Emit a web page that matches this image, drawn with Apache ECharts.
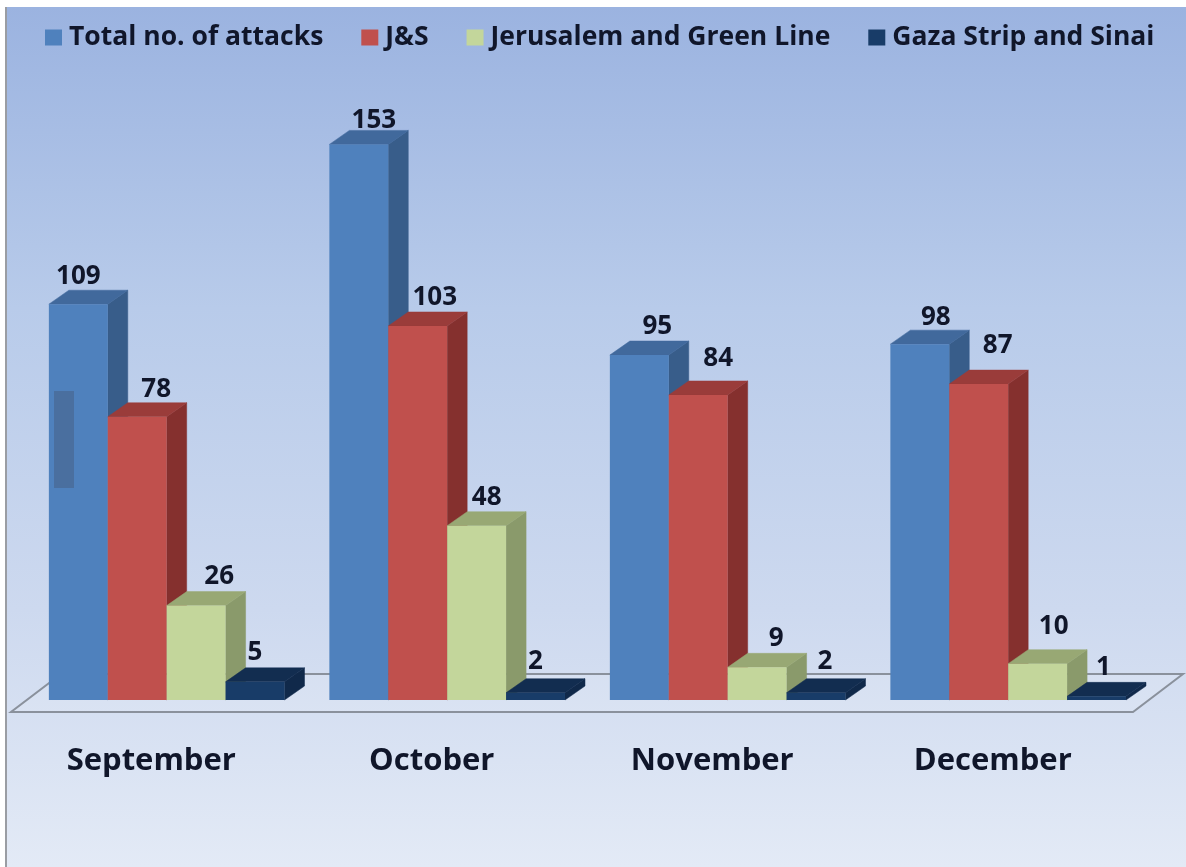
<!DOCTYPE html>
<html><head><meta charset="utf-8">
<style>html,body{margin:0;padding:0;background:#fff}#c{width:1186px;height:867px}</style>
<script src="https://cdn.jsdelivr.net/npm/echarts@6/dist/echarts.min.js"></script>
</head><body><div id="c"></div>
<script>
const months = ['September','October','November','December'];
const seriesNames = ['Total no. of attacks','J&S','Jerusalem and Green Line','Gaza Strip and Sinai'];
const totalAttacks = [109,153,95,98];
const jands = [78,103,84,87];
const jerusalemGreenLine = [26,48,9,10];
const gazaSinai = [5,2,2,1];
const allValues = [totalAttacks,jands,jerusalemGreenLine,gazaSinai];

// styling, kept apart from the values
const palette = [
  {front:'#4f81bd',side:'#385d8a',top:'#41699c'},
  {front:'#c0504d',side:'#85302e',top:'#9a3c3a'},
  {front:'#c3d69b',side:'#8a9a6b',top:'#98a874'},
  {front:'#183c68',side:'#10294a',top:'#122d50'}
];
// hand-placed label nudges relative to the bar top
const labelDx = [[0,15,18,16],[19,17,20,19],[23,10,19,16],[0,0,9,7]];
const labelDy = [[-14,-10,-14,-13],[-13,-14,-22,-24],[-15,-14,-15,-23],[-15,-17,-17,-15]];

const FONT = '"Open Sans", Lato, sans-serif';
const INK = '#10162a';
const DEPTH_X = 20, DEPTH_Y = 14;

function barRenderer(si){
  return function(params, api){
    const i = api.value(0), v = api.value(1);
    const band = api.size([1,0])[0];
    const bw = band*0.21;
    const base = api.coord([i,0]);
    const head = api.coord([i,v]);
    const x0 = base[0] - 2*bw + band*0.055 + si*bw;
    const x1 = x0 + bw;
    const yb = base[1], yt = head[1];
    const c = palette[si];
    const poly = (pts,fill)=>({type:'polygon',shape:{points:pts},style:{fill:fill,stroke:fill,lineWidth:0.5}});
    return {type:'group',children:[
      poly([[x1,yb],[x1+DEPTH_X,yb-DEPTH_Y],[x1+DEPTH_X,yt-DEPTH_Y],[x1,yt]],c.side),
      poly([[x0,yt],[x0+DEPTH_X,yt-DEPTH_Y],[x1+DEPTH_X,yt-DEPTH_Y],[x1,yt]],c.top),
      {type:'rect',shape:{x:x0,y:yt,width:bw,height:yb-yt},style:{fill:c.front}},
      {type:'text',z2:50,style:{text:String(v),
        x:(x0+x1)/2+labelDx[si][i], y:yt-DEPTH_Y+labelDy[si][i],
        align:'center',verticalAlign:'middle',fill:INK,font:'bold 26px '+FONT}}
    ]};
  };
}
function floorRenderer(params, api){
  const cs = params.coordSys;
  const y0 = cs.y+cs.height+12, y1 = cs.y+cs.height-26;
  return {type:'polygon',shape:{points:[[cs.x,y0],[cs.x+cs.width,y0],[cs.x+cs.width+50,y1],[cs.x+50,y1]]},
    style:{fill:'rgba(255,255,255,0.10)',stroke:'#8a919c',lineWidth:2}};
}

const series = [{type:'custom',name:'floor',coordinateSystem:'cartesian2d',silent:true,z:1,
  renderItem:floorRenderer,data:[[0,0]],encode:{x:0,y:1}}];
seriesNames.forEach((n,si)=>{
  series.push({type:'custom',name:n,coordinateSystem:'cartesian2d',z:2+si,
    itemStyle:{color:palette[si].front},
    renderItem:barRenderer(si),
    encode:{x:0,y:1},
    data:allValues[si].map((v,i)=>[i,v])});
});

const chart = echarts.init(document.getElementById('c'),null,{renderer:'canvas'});
chart.setOption({
  animation:false,
  grid:{left:11,width:1122,top:119,height:581,containLabel:false},
  legend:{data:seriesNames,left:40,top:19,icon:'rect',itemWidth:17,itemHeight:16,itemGap:38,selectedMode:false,
    textStyle:{fontFamily:FONT,fontWeight:'bold',fontSize:26.5,color:INK,padding:[0,0,0,2]}},
  xAxis:{type:'category',data:months,axisLine:{show:false},axisTick:{show:false},
    axisLabel:{margin:46,fontFamily:FONT,fontWeight:'bold',fontSize:31,color:INK}},
  yAxis:{type:'value',min:0,max:160,show:false},
  graphic:[
    {type:'rect',z:-10,shape:{x:7,y:7,width:1179,height:860},silent:true,
      style:{fill:new echarts.graphic.LinearGradient(0,0,0,1,[
        {offset:0,color:'#9bb3e0'},{offset:0.35,color:'#b8cbea'},{offset:0.7,color:'#cdd9ef'},{offset:1,color:'#e3eaf6'}])}},
    {type:'rect',z:-9,shape:{x:5,y:7,width:2,height:860},silent:true,style:{fill:'#9a9da3'}},
    {type:'rect',z:100,shape:{x:54,y:391,width:20,height:97},silent:true,style:{fill:'#4a6f9f'}}
  ],
  series:series
});
</script></body></html>
